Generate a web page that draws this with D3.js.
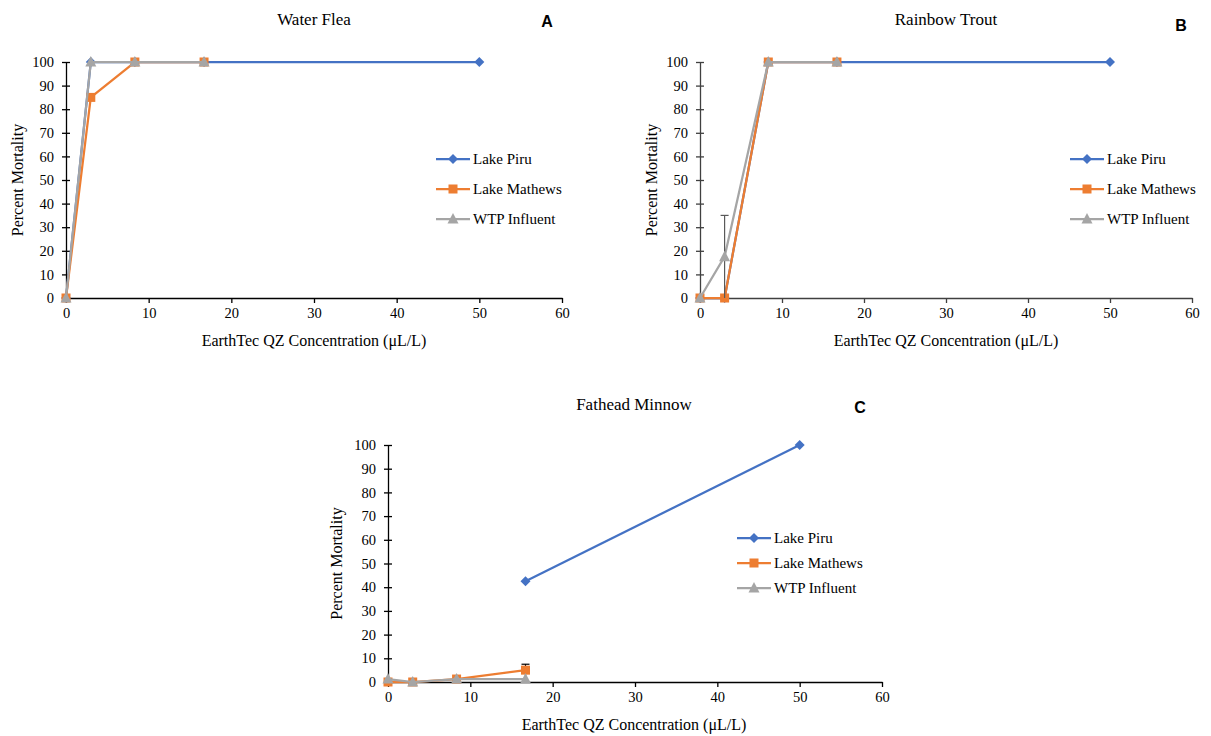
<!DOCTYPE html>
<html>
<head>
<meta charset="utf-8">
<script src="https://cdn.jsdelivr.net/npm/d3@7"></script>
<style>
  body { margin: 0; background: #fff; }
</style>
</head>
<body>
<div id="chart"></div>
<script>
'use strict';

// concentrations tested (uL/L)
var concentrations = [0, 3, 8.33, 16.7, 50];
var seriesNames = ['Lake Piru', 'Lake Mathews', 'WTP Influent'];
var seriesColors = ['#4472C4', '#ED7D31', '#A5A5A5'];
var xTicks = [0, 10, 20, 30, 40, 50, 60];
var yTicks = [0, 10, 20, 30, 40, 50, 60, 70, 80, 90, 100];

// A - water flea
var fleaPiru = [0, 100, 100, 100, 100];
var fleaMathews = [0, 85, 100, 100, null];
var fleaWtp = [0, 100, 100, 100, null];

// B - rainbow trout
var troutPiru = [0, 0, 100, 100, 100];
var troutMathews = [0, 0, 100, 100, null];
var troutWtp = [0, 17.5, 100, 100, null];
var troutWtpErr = [0, 17.5, 0, 0, null];

// C - fathead minnow
var minnowPiru = [null, null, null, 42.5, 100];
var minnowMathews = [0, 0, 1.25, 5, null];
var minnowMathewsErr = [0, 0, 0, 2.5, null];
var minnowWtp = [1.25, 0, 1.25, 1.25, null];

var SERIF = 'Liberation Serif, Times New Roman, serif';

var svg = d3.select('#chart').append('svg')
    .attr('width', 1211)
    .attr('height', 736)
    .attr('font-family', SERIF);

function marker(g, type, color) {
    if (type == 0) {
        g.append('path').attr('d', 'M0,-5L5,0L0,5L-5,0Z').attr('fill', color);
    } else if (type == 1) {
        g.append('rect').attr('x', -4.5).attr('y', -4.5).attr('width', 9).attr('height', 9).attr('fill', color);
    } else {
        g.append('path').attr('d', 'M0,-6L5.5,4.5L-5.5,4.5Z').attr('fill', color);
    }
}

function drawPanel(cfg) {
    var x = d3.scaleLinear().domain([0, 60]).range([cfg.left, cfg.right]);
    var y = d3.scaleLinear().domain([0, 100]).range([cfg.bottom, cfg.top]);
    var g = svg.append('g');

    // axes
    var yAxis = d3.axisLeft(y).tickValues(yTicks).tickSizeInner(4).tickSizeOuter(0).tickPadding(8);
    var ya = g.append('g').attr('transform', 'translate(' + cfg.left + ',0)').call(yAxis);
    ya.selectAll('.tick line').attr('x2', 4).attr('x1', -4);

    var xAxis = d3.axisBottom(x).tickValues(xTicks).tickSizeInner(5).tickSizeOuter(0).tickPadding(5);
    var xa = g.append('g').attr('transform', 'translate(0,' + cfg.bottom + ')').call(xAxis);
    [ya, xa].forEach(function(a) {
        a.attr('font-family', SERIF).attr('font-size', 14.5);
        a.select('.domain').attr('stroke', cfg.axisColor).attr('stroke-width', 1.3);
        a.selectAll('.tick line').attr('stroke', cfg.axisColor).attr('stroke-width', 1.3);
        a.selectAll('text').attr('fill', '#000');
    });

    var line = d3.line()
        .defined(function(d) { return d.v != null; })
        .x(function(d) { return x(d.c); })
        .y(function(d) { return y(d.v); });

    cfg.data.forEach(function(vals, i) {
        var pts = concentrations.map(function(c, j) { return { c: c, v: vals[j] }; });
        g.append('path')
            .datum(pts)
            .attr('d', line)
            .attr('fill', 'none')
            .attr('stroke', seriesColors[i])
            .attr('stroke-width', 2.25);

        var err = cfg.errors[i];
        if (err) {
            pts.forEach(function(p, j) {
                if (!err[j]) return;
                var eg = g.append('g').attr('stroke', cfg.errColor[i]).attr('stroke-width', 1.2);
                eg.append('line')
                    .attr('x1', x(p.c)).attr('x2', x(p.c))
                    .attr('y1', y(Math.max(0, p.v - err[j]))).attr('y2', y(p.v + err[j]));
                eg.append('line')
                    .attr('x1', x(p.c) - 4).attr('x2', x(p.c) + 4)
                    .attr('y1', y(p.v + err[j])).attr('y2', y(p.v + err[j]));
            });
        }

        pts.forEach(function(p) {
            if (p.v == null) return;
            var mg = g.append('g').attr('transform', 'translate(' + x(p.c) + ',' + y(p.v) + ')');
            marker(mg, i, seriesColors[i]);
        });
    });

    // titles and labels
    g.append('text')
        .attr('x', cfg.titleX).attr('y', cfg.titleY)
        .attr('text-anchor', 'middle')
        .attr('font-size', 17)
        .text(cfg.title);
    g.append('text')
        .attr('x', cfg.letterX).attr('y', cfg.letterY)
        .attr('text-anchor', 'middle')
        .attr('font-family', 'Liberation Sans, Arial, sans-serif')
        .attr('font-weight', 'bold')
        .attr('font-size', 16)
        .text(cfg.letter);
    g.append('text')
        .attr('x', cfg.titleX).attr('y', cfg.bottom + 48)
        .attr('text-anchor', 'middle')
        .attr('font-size', 16)
        .text('EarthTec QZ Concentration (\u03bcL/L)');
    g.append('text')
        .attr('transform', 'translate(' + cfg.yLabelX + ',' + ((cfg.top + cfg.bottom) / 2) + ') rotate(-90)')
        .attr('text-anchor', 'middle')
        .attr('font-size', 16)
        .text('Percent Mortality');

    // legend
    seriesNames.forEach(function(name, i) {
        var ly = cfg.legendY + i * cfg.legendStep;
        var lg = g.append('g');
        lg.append('line')
            .attr('x1', cfg.legendX).attr('x2', cfg.legendX + 34)
            .attr('y1', ly).attr('y2', ly)
            .attr('stroke', seriesColors[i]).attr('stroke-width', 2.25);
        var mg = lg.append('g').attr('transform', 'translate(' + (cfg.legendX + 17) + ',' + ly + ')');
        marker(mg, i, seriesColors[i]);
        lg.append('text')
            .attr('x', cfg.legendX + 37).attr('y', ly + 5)
            .attr('font-size', 15)
            .text(name);
    });
}

drawPanel({
    left: 66, right: 562, top: 62, bottom: 298,
    title: 'Water Flea', titleX: 314, titleY: 25,
    letter: 'A', letterX: 547, letterY: 27,
    yLabelX: 23, axisColor: '#000',
    legendX: 436, legendY: 159, legendStep: 30,
    data: [fleaPiru, fleaMathews, fleaWtp],
    errors: [null, null, null], errColor: []
});

drawPanel({
    left: 700, right: 1192, top: 62, bottom: 298,
    title: 'Rainbow Trout', titleX: 946, titleY: 25,
    letter: 'B', letterX: 1181, letterY: 31,
    yLabelX: 657, axisColor: '#404040',
    legendX: 1070, legendY: 159, legendStep: 30,
    data: [troutPiru, troutMathews, troutWtp],
    errors: [null, null, troutWtpErr], errColor: [null, null, '#595959']
});

drawPanel({
    left: 388, right: 882, top: 445, bottom: 682,
    title: 'Fathead Minnow', titleX: 634, titleY: 410,
    letter: 'C', letterX: 860, letterY: 413,
    yLabelX: 342, axisColor: '#000',
    legendX: 737, legendY: 538, legendStep: 25,
    data: [minnowPiru, minnowMathews, minnowWtp],
    errors: [null, minnowMathewsErr, null], errColor: [null, '#000', null]
});
</script>
</body>
</html>
